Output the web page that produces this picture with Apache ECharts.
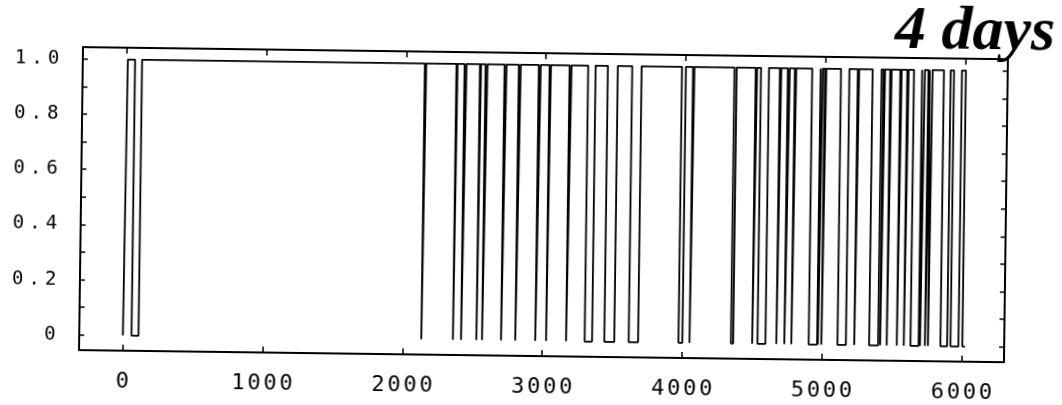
<!DOCTYPE html>
<html>
<head>
<meta charset="utf-8">
<script src="https://cdn.jsdelivr.net/npm/echarts@6/dist/echarts.min.js"></script>
<style>
  html, body { margin: 0; padding: 0; background: #fff; overflow: hidden; }
  #chart { width: 1062px; height: 405px; transform: rotate(0.75deg); transform-origin: 531px 202px; }
</style>
</head>
<body>
<div id="chart"></div>
<script>
// Two-state trace: level is 0 or 1, switching at the times below.
const startLevel = 0;
const earlySwitches = [10, 62, 112];
const dipStarts = [2134, 2360, 2418, 2528, 2568, 2704, 2806, 2949, 3026, 3169,
                   3302, 3443, 3617, 3973, 4052, 4348, 4500, 4538, 4673, 4730,
                   4780, 4904, 4970, 4995, 5110, 5230, 5336, 5415, 5462, 5534,
                   5584, 5632, 5700, 5735, 5757, 5846, 5918];
const dipEnds   = [2144, 2368, 2432, 2536, 2582, 2718, 2820, 2963, 3036, 3183,
                   3355, 3514, 3684, 4001, 4062, 4364, 4510, 4595, 4683, 4744,
                   4790, 4964, 4980, 5005, 5170, 5240, 5400, 5425, 5472, 5544,
                   5594, 5690, 5710, 5745, 5765, 5894, 5975];
const lastFall = 6003;
const traceEnd = 6022;

const xTickValues = [0, 1000, 2000, 3000, 4000, 5000, 6000];
const xTickLabels = ['0', '1000', '2000', '3000', '4000', '5000', '6000'];
const yTickValues = [0, 0.2, 0.4, 0.6, 0.8, 1.0];
const yTickLabels = ['0', '0.2', '0.4', '0.6', '0.8', '1.0'];
const yMinorValues = [0, 0.1, 0.2, 0.3, 0.4, 0.5, 0.6, 0.7, 0.8, 0.9, 1.0];

// Expand the switch times into a staircase polyline.
const trace = [[0, startLevel]];
let level = startLevel;
function flip(t) {
  trace.push([t, level]);
  level = 1 - level;
  trace.push([t, level]);
}
earlySwitches.forEach(flip);
dipStarts.forEach((s, i) => { flip(s); flip(dipEnds[i]); });
flip(lastFall);
trace.push([traceEnd, level]);

// Typewriter-style labels: every character sits in a fixed-width cell.
function spaced(text, cls) {
  return text.split('').map(c => '{' + cls + '|' + c + '}').join('');
}
function labelFor(values, labels, cls) {
  return function (v) {
    const i = values.findIndex(t => Math.abs(t - v) < 1e-6);
    return i < 0 ? '' : spaced(labels[i], cls);
  };
}

const ink = '#000';
const mono = 'DejaVu Sans Mono';
const chart = echarts.init(document.getElementById('chart'), null, { renderer: 'canvas' });

const frameLine = { show: true, onZero: false, lineStyle: { color: ink, width: 2 } };

chart.setOption({
  animation: false,
  backgroundColor: '#fff',
  title: {
    text: '4 days',
    right: 4,
    top: -9,
    textStyle: {
      fontFamily: 'Liberation Serif',
      fontStyle: 'italic',
      fontWeight: 'bold',
      fontSize: 62,
      color: ink
    }
  },
  grid: { left: 81, right: 56, top: 53, bottom: 49, outerBoundsMode: 'none' },
  xAxis: [
    {
      type: 'value', min: -312, max: 6302, position: 'bottom',
      axisLine: frameLine,
      splitLine: { show: false },
      axisTick: { show: true, inside: true, length: 6, customValues: xTickValues,
                  lineStyle: { color: ink, width: 1.5 } },
      axisLabel: {
        customValues: xTickValues, margin: 20,
        fontFamily: mono, fontSize: 22, color: ink,
        formatter: labelFor(xTickValues, xTickLabels, 'cx'),
        rich: { cx: { width: 16, align: 'center', fontFamily: mono,
                      fontSize: 22, color: ink } }
      }
    },
    {
      type: 'value', min: -312, max: 6302, position: 'top',
      axisLine: frameLine,
      splitLine: { show: false },
      axisTick: { show: true, inside: true, length: 6, customValues: xTickValues,
                  lineStyle: { color: ink, width: 1.5 } },
      axisLabel: { show: false }
    }
  ],
  yAxis: [
    {
      type: 'value', min: -0.055, max: 1.043, position: 'left',
      axisLine: frameLine,
      splitLine: { show: false },
      axisTick: { show: true, inside: true, length: 5, customValues: yMinorValues,
                  lineStyle: { color: ink, width: 1.5 } },
      axisLabel: {
        customValues: yTickValues, margin: 21,
        fontFamily: mono, fontSize: 19, color: ink,
        formatter: labelFor(yTickValues, yTickLabels, 'cy'),
        rich: { cy: { width: 16.5, align: 'center', fontFamily: mono,
                      fontSize: 19, color: ink } }
      }
    },
    {
      type: 'value', min: -0.055, max: 1.043, position: 'right',
      axisLine: frameLine,
      splitLine: { show: false },
      axisTick: { show: true, inside: true, length: 5, customValues: yMinorValues,
                  lineStyle: { color: ink, width: 1.5 } },
      axisLabel: { show: false }
    }
  ],
  series: [
    {
      type: 'line',
      xAxisIndex: 0,
      yAxisIndex: 0,
      data: trace,
      showSymbol: false,
      symbol: 'none',
      clip: true,
      lineStyle: { color: ink, width: 1.8 }
    }
  ]
});
</script>
</body>
</html>
